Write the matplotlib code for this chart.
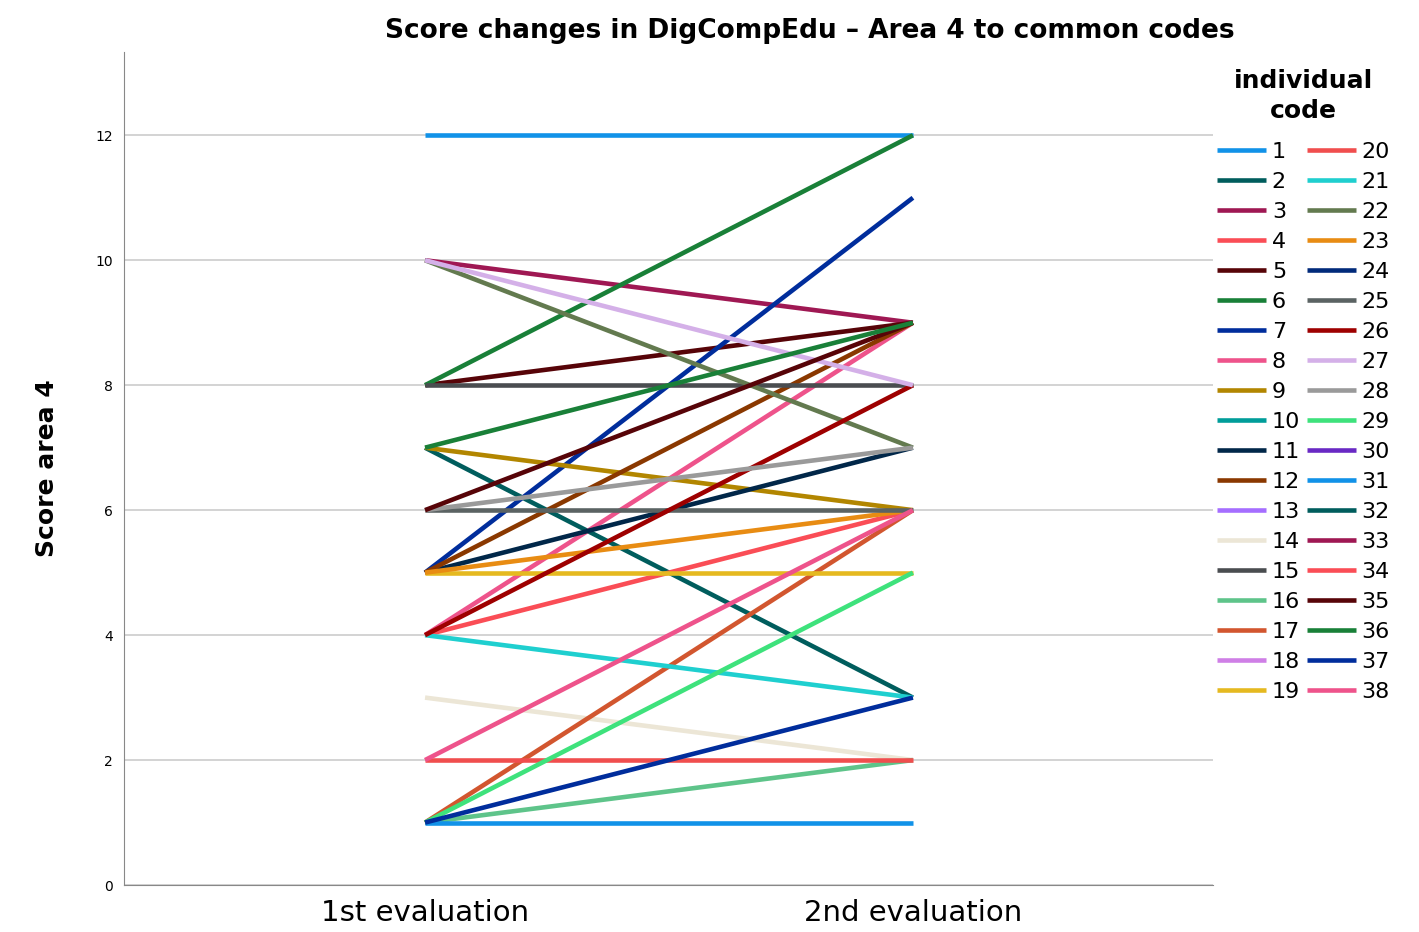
import numpy as np
import matplotlib
matplotlib.use("Agg")
import matplotlib.pyplot as plt

nan = np.nan

codes = list(range(1, 39))
# score at 1st and 2nd evaluation per individual code (nan = not drawn)
first = [12, 7, 10, 4, 8, 8, 5, 4, 7, nan,
         5, 5, nan, 3, 8, 1, 1, nan, 5, 2,
         4, 10, 5, nan, 6, 4, 10, 6, 1, nan,
         1, nan, nan, nan, 6, 7, 1, 2]
second = [12, 3, 9, 6, 9, 12, 11, 9, 6, nan,
          7, 9, nan, 2, 8, 2, 6, nan, 5, 2,
          3, 7, 6, nan, 6, 8, 8, 7, 5, nan,
          1, nan, nan, nan, 9, 9, 3, 6]
colors = ['#1192e8', '#005d5d', '#9f1853', '#fa4d56', '#570408', '#198038',
          '#002d9c', '#ee538b', '#b28600', '#009d9a', '#012749', '#8a3800',
          '#a56eff', '#ece6d6', '#4a4d50', '#5ec48a', '#d2562f', '#cf7fe6',
          '#e5b920', '#f04e4e', '#1fcfcf', '#637a4f', '#e88c13', '#012a7a',
          '#5b6363', '#9e0000', '#d4b0e8', '#9a9a9a', '#3ee27c', '#6929c4',
          '#1192e8', '#005d5d', '#9f1853', '#fa4d56', '#570408', '#198038',
          '#002d9c', '#ee538b']
xlabels = ['1st evaluation', '2nd evaluation']

fig = plt.figure(figsize=(14.19, 9.32), dpi=100)
ax = fig.add_axes([0.0874, 0.0504, 0.7674, 0.8936])

for i, c in enumerate(codes):
    ax.plot([0, 1], [first[i], second[i]], color=colors[i], lw=3.3,
            solid_capstyle='butt', label=str(c))

ax.set_xlim(-0.617, 1.615)
ax.set_ylim(0, 13.33)
ax.set_yticks(range(0, 13, 2))
ax.set_xticks([0, 1])
ax.set_xticklabels(xlabels, fontsize=21)
ax.tick_params(axis='y', labelsize=10, length=0, pad=8)
ax.tick_params(axis='x', length=0, pad=10)
ax.yaxis.grid(True, color='#cccccc', lw=1.2)
ax.set_axisbelow(True)
for s in ['top', 'right']:
    ax.spines[s].set_visible(False)
for s in ['left', 'bottom']:
    ax.spines[s].set_color('#888888')
ax.set_ylabel('Score area 4', fontsize=18, fontweight='bold', labelpad=26)
ax.set_title('Score changes in DigCompEdu \u2013 Area 4 to common codes',
             fontsize=19, fontweight='bold', pad=10, x=0.63)

leg = ax.legend(ncol=2, loc='upper left', bbox_to_anchor=(1.0, 0.985),
                borderaxespad=0, borderpad=0.2,
                frameon=False, fontsize=16, handlelength=2.2,
                handletextpad=0.25, columnspacing=0.3, labelspacing=0.45,
                title='individual\ncode', alignment='center',
                title_fontproperties={'weight': 'bold', 'size': 18})
leg.get_title().set_multialignment('center')
leg.get_title().set_linespacing(1.3)
leg._legend_box.sep = 14

fig.savefig('out.png', dpi=100)
